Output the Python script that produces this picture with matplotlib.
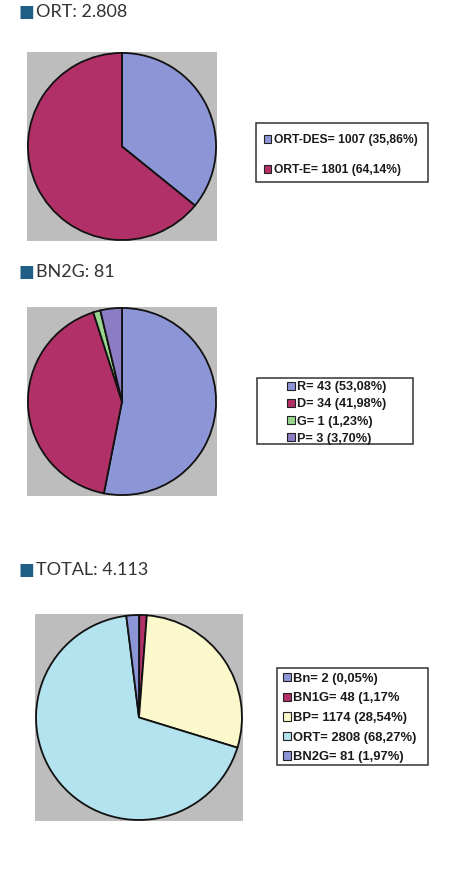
import matplotlib
matplotlib.use("Agg")
import matplotlib.pyplot as plt
from matplotlib.patches import Patch, Rectangle

W, H = 462, 874

# ---- data ----
titles = ["ORT: 2.808", "BN2G: 81", "TOTAL: 4.113"]

ort_labels = ["ORT-DES= 1007 (35,86%)", "ORT-E= 1801 (64,14%)"]
ort_values = [1007, 1801]
ort_colors = ["#8c95d5", "#b23068"]

bn2g_labels = ["R= 43 (53,08%)", "D= 34 (41,98%)", "G= 1 (1,23%)", "P= 3 (3,70%)"]
bn2g_values = [43, 34, 1, 3]
bn2g_colors = ["#8c95d5", "#b23068", "#9ad68e", "#8b7cc4"]

total_labels = ["Bn= 2 (0,05%)", "BN1G= 48 (1,17%", "BP= 1174 (28,54%)",
                "ORT= 2808 (68,27%)", "BN2G= 81 (1,97%)"]
total_values = [2, 48, 1174, 2808, 81]
total_colors = ["#8c95d5", "#b23068", "#fbf8cc", "#b3e3ee", "#8c95d5"]

fig = plt.figure(figsize=(W / 100, H / 100), dpi=100)
fig.patch.set_facecolor("white")


def fx(x):
    return x / W


def fy(y):
    return 1 - y / H


def px_axes(x0, y0, x1, y1):
    return fig.add_axes([fx(x0), fy(y1), (x1 - x0) / W, (y1 - y0) / H])


def panel(box, values, colors, labels, leg_box, leg_anchor, fontsize, spacing,
          title, title_y, lim):
    ax = px_axes(*box)
    ax.pie(values, colors=colors, startangle=90, counterclock=False, radius=1.0,
           wedgeprops=dict(edgecolor="#111111", linewidth=1.3))
    ax.set_frame_on(True)
    ax.set_facecolor("#bdbdbd")
    ax.set_xlim(-lim, lim)
    ax.set_ylim(-lim, lim)
    ax.set_aspect("auto")
    ax.set_xticks([])
    ax.set_yticks([])
    for s in ax.spines.values():
        s.set_visible(False)

    # legend frame
    x0, y0, x1, y1 = leg_box
    fig.patches.append(Rectangle((fx(x0), fy(y1)), (x1 - x0) / W, (y1 - y0) / H,
                                 transform=fig.transFigure, facecolor="white",
                                 edgecolor="#333333", linewidth=1.1, zorder=1))
    handles = [Patch(facecolor=c, edgecolor="#222222", linewidth=0.8) for c in colors]
    leg = fig.legend(handles, labels, loc="center left",
                     bbox_to_anchor=(fx(leg_anchor[0]), fy(leg_anchor[1])),
                     bbox_transform=fig.transFigure,
                     frameon=False, borderpad=0, borderaxespad=0,
                     handlelength=0.6, handleheight=0.6, handletextpad=0.2,
                     labelspacing=spacing,
                     prop=dict(family="Liberation Sans", weight="bold", size=fontsize))
    leg.set_zorder(3)
    for t in leg.get_texts():
        t.set_color("#1a1a1a")

    # title
    fig.text(fx(19), fy(title_y), "\u25A0", color="#1f5f86", fontsize=12,
             va="center", ha="left", family="DejaVu Sans")
    fig.text(fx(36), fy(title_y), title, color="#333333", fontsize=13,
             va="center", ha="left", family="Lato")


panel((27, 52, 217, 241), ort_values, ort_colors, ort_labels,
      (256, 123, 428, 182), (264, 155), 8.7, 1.5, titles[0], 12, 1.01)
panel((27, 307, 217, 496), bn2g_values, bn2g_colors, bn2g_labels,
      (257, 378, 413, 444), (287, 413), 9.1, 0.4, titles[1], 272, 1.01)
panel((35, 614, 243, 821), total_values, total_colors, total_labels,
      (277, 668, 428, 765), (283, 718), 9.4, 0.58, titles[2], 570, 1.01)

fig.savefig("out.png", dpi=100, facecolor="white")
